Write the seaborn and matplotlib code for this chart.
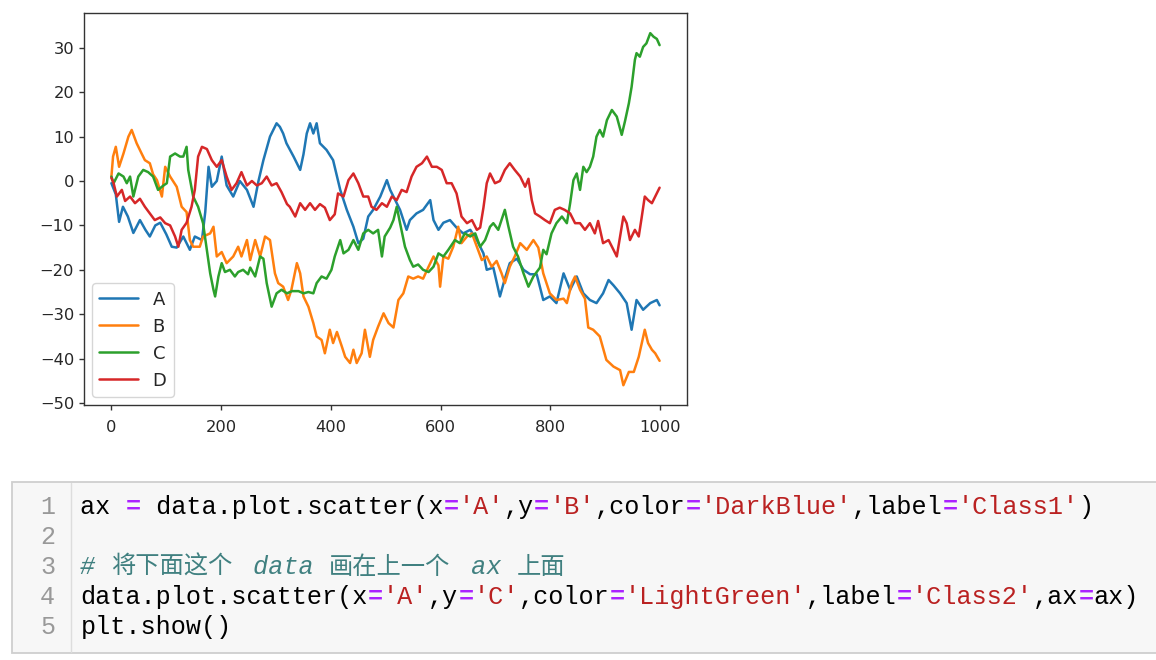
import matplotlib
matplotlib.use("Agg")
import matplotlib.pyplot as plt
import seaborn as sns
from matplotlib.patches import Rectangle
from matplotlib.lines import Line2D

# ---------------- data ----------------
A_idx = [0, 8, 14, 21, 30, 40, 52, 62, 70, 80, 89, 100, 110, 119, 131, 143, 152, 165, 171, 177,
         183, 192, 201, 210, 222, 234, 247, 259, 268, 277, 289, 301, 307, 313, 319, 332, 344, 350,
         356, 362, 368, 374, 380, 392, 404, 417, 429, 441, 450, 459, 468, 477, 490, 502, 508, 514,
         526, 538, 544, 556, 568, 581, 587, 596, 605, 617, 629, 641, 654, 666, 678, 684, 696, 708,
         717, 726, 739, 751, 763, 775, 787, 799, 811, 824, 836, 848, 860, 872, 884, 896, 906, 915,
         927, 939, 948, 957, 969, 982, 994, 999]
A_val = [-0.5, -3, -9.2, -5.8, -8, -11.7, -8.8, -11, -12.5, -10, -9.4, -12, -14.8, -15, -12.5, -15.5,
         -12.5, -13.3, -7, 3.2, -1.3, 0, 5.5, -1, -3.5, 0, -2, -5.8, 0, 4.7, 10, 13, 12.2, 10.7, 8.5,
         5.5, 2.5, 6, 10.7, 13, 10.7, 13, 8.5, 7, 4.7, -2, -6.5, -10.3, -14, -13, -8, -6.5, -3.5, 0.2,
         -2, -3.5, -6.5, -11, -8.8, -7.3, -6.5, -4.3, -8.8, -11, -9.4, -8.8, -10.5, -11.8, -11, -13.3,
         -16.3, -20, -19.5, -26, -22, -18.5, -17.5, -20, -21, -21, -26.8, -26, -27.5, -20.8, -24.5,
         -21.5, -25.3, -26.8, -27.5, -25.3, -22.3, -23.5, -25.3, -27.5, -33.5, -26.8, -29, -27.5,
         -26.8, -28]

B_idx = [0, 3, 8, 14, 22, 31, 37, 46, 55, 61, 70, 76, 83, 92, 98, 107, 119, 128, 137, 143, 149, 161,
         167, 180, 186, 192, 201, 210, 222, 231, 237, 247, 253, 262, 271, 280, 289, 298, 304, 313,
         322, 328, 338, 344, 350, 359, 368, 374, 383, 389, 398, 404, 411, 420, 426, 435, 441, 447,
         456, 462, 471, 477, 486, 496, 505, 514, 523, 532, 541, 550, 559, 568, 578, 587, 596, 599,
         605, 614, 623, 632, 638, 648, 657, 666, 675, 684, 693, 702, 711, 717, 726, 735, 745, 757,
         769, 778, 787, 799, 811, 824, 830, 839, 845, 854, 863, 869, 878, 890, 902, 915, 927, 933,
         943, 952, 961, 972, 978, 985, 991, 999]
B_val = [1, 5.5, 7.7, 3.2, 6.2, 10, 11.5, 8.5, 6.2, 4.7, 4, 1.5, 0.2, -3.5, 3.2, 1, -1.3, -5.8, -7,
         -13.3, -14.8, -14.8, -12.5, -11.8, -10.3, -17, -16, -18.5, -17, -14.8, -17, -13.3, -17.8,
         -13.3, -17, -12.5, -13.3, -20.8, -23, -23.8, -26.8, -24.5, -18.5, -20.8, -26, -28.3, -32,
         -35, -35.8, -38.8, -33.5, -36.5, -34, -37.3, -39.6, -41, -38, -41, -38.8, -33.5, -39.6,
         -35.8, -32.8, -29.8, -32, -33, -26.8, -25.3, -21.5, -22, -21.5, -22, -19.3, -17, -19, -23.8,
         -17, -17.5, -14.8, -10.3, -14, -12.5, -11.8, -14.8, -17.8, -17, -19.3, -18, -20.8, -23,
         -19.3, -17, -14, -15.5, -13.3, -15, -20.8, -25.3, -26.8, -26.5, -27.5, -23, -21.5, -24.5,
         -26.5, -33, -33.5, -35, -40.3, -41.8, -42.6, -46, -43, -43, -39.6, -33.5, -36.5, -38,
         -38.8, -40.5]

C_idx = [0, 4, 13, 22, 28, 34, 40, 49, 58, 67, 76, 85, 95, 101, 107, 116, 125, 131, 137, 140, 149,
         158, 167, 174, 180, 186, 189, 195, 201, 207, 216, 225, 231, 240, 249, 253, 262, 271, 277,
         283, 292, 301, 310, 320, 329, 341, 350, 359, 368, 374, 383, 392, 401, 407, 417, 423, 432,
         441, 450, 459, 468, 477, 486, 493, 498, 508, 514, 520, 526, 535, 544, 550, 559, 568, 578,
         587, 596, 605, 614, 626, 635, 644, 654, 663, 672, 681, 690, 696, 705, 717, 723, 732, 741,
         751, 760, 769, 781, 787, 793, 802, 811, 821, 830, 836, 842, 848, 854, 860, 866, 872, 878,
         884, 890, 896, 903, 912, 921, 930, 936, 943, 948, 954, 957, 963, 969, 975, 982, 988, 994,
         999]
C_val = [1, -0.5, 1.7, 1, -0.5, 1, -3.5, 1, 2.5, 2, 1, -2, -1, -0.5, 5.5, 6.2, 5.5, 5.5, 7.7, 2.5,
         -3.5, -5.8, -9.5, -15.5, -20.8, -24.5, -26, -21.5, -18.5, -20.5, -20, -21.5, -20.5, -20,
         -21, -19.5, -21.5, -17, -17.5, -23, -28.3, -25.3, -24.5, -25.3, -24.8, -24.8, -25.3, -25,
         -25.3, -23, -21.5, -22, -20, -17, -13.3, -16.3, -15.5, -13.3, -15.5, -11.8, -11, -11.8,
         -11, -17, -12.5, -10.5, -8.8, -5.8, -9.5, -14.8, -17.8, -19.3, -18.8, -20, -20.5, -19.3,
         -16.3, -17, -15.5, -13.3, -14, -11.8, -12.5, -11.8, -14.8, -13.3, -10.3, -9.5, -11, -6.5,
         -10, -14.8, -17, -20.8, -23.8, -21.5, -19.5, -15.5, -16.5, -11.8, -9.5, -8, -9.5, -5, 0.2,
         1.7, -2, 3.2, 2, 3.2, 5.5, 10, 11.5, 10, 13.7, 16, 14.5, 10.4, 13.5, 17.5, 21.2, 27.3,
         28.8, 28, 30.2, 31, 33.3, 32.5, 32, 30.6]

D_idx = [0, 4, 10, 19, 25, 34, 43, 52, 61, 70, 79, 89, 98, 107, 116, 122, 128, 137, 146, 152, 158,
         165, 174, 183, 192, 201, 210, 219, 228, 237, 247, 256, 265, 274, 283, 292, 301, 310, 320,
         325, 335, 344, 353, 362, 371, 380, 389, 398, 407, 413, 423, 432, 441, 450, 459, 468, 474,
         483, 493, 502, 511, 520, 529, 538, 547, 556, 566, 575, 584, 593, 602, 611, 620, 629, 638,
         648, 657, 666, 672, 678, 684, 690, 699, 708, 717, 726, 735, 745, 754, 760, 766, 772, 781,
         790, 799, 808, 817, 826, 836, 845, 854, 863, 872, 881, 887, 896, 906, 915, 921, 927, 933,
         939, 945, 954, 961, 966, 972, 978, 985, 991, 999]
D_val = [0.7, -0.5, -3.5, -2, -4.5, -3.5, -5, -4, -5.8, -7.3, -8.8, -8.2, -9.5, -10, -12.5, -14.8,
         -11, -9.4, -5.8, -2, 5.5, 7.7, 7.2, 4.7, 3.2, 4.7, 1, -2, -0.5, 2, -1, 0, -1, -0.5, 1, -1,
         -0.5, -2.5, -5.2, -5.8, -8, -5, -6.5, -5, -6.5, -5.2, -6, -8.8, -7.5, -2.8, -3.5, 0.2, 1.7,
         -0.5, -3.5, -3.5, -5.8, -6.5, -5, -5.8, -3.5, -4.3, -2, -2.5, 1, 3.2, 4, 5.5, 3.2, 3.2, 2.5,
         -0.5, -0.5, -2.8, -8, -9.5, -8.8, -11, -10.5, -6, -0.5, 1.7, -0.5, 0, 2.5, 4, 2.5, 1, -1.3,
         0.5, -4.3, -7.3, -8, -8.8, -9.5, -6.5, -6, -6.5, -7.3, -9.5, -9.5, -11, -9.5, -11.8, -9,
         -14, -13.3, -15.5, -17, -12.5, -8, -9.5, -13.3, -11, -12.5, -8.5, -3.5, -4.3, -5, -3.5,
         -1.5]

series_names = ["A", "B", "C", "D"]
series_colors = ["#1f77b4", "#ff7f0e", "#2ca02c", "#d62728"]
x_ticks = [0, 200, 400, 600, 800, 1000]
y_ticks = [-50, -40, -30, -20, -10, 0, 10, 20, 30]

code_lines = [
    [("ax ", "k"), ("=", "op"), (" data.plot.scatter(x", "k"), ("=", "op"), ("'A'", "s"),
     (",y", "k"), ("=", "op"), ("'B'", "s"), (",color", "k"), ("=", "op"), ("'DarkBlue'", "s"),
     (",label", "k"), ("=", "op"), ("'Class1'", "s"), (")", "k")],
    [],
    [("# ", "c"), ("将下面这个", "cj"), (" data ", "c"), ("画在上一个", "cj"), (" ax ", "c"),
     ("上面", "cj")],
    [("data.plot.scatter(x", "k"), ("=", "op"), ("'A'", "s"), (",y", "k"), ("=", "op"),
     ("'C'", "s"), (",color", "k"), ("=", "op"), ("'LightGreen'", "s"), (",label", "k"),
     ("=", "op"), ("'Class2'", "s"), (",ax", "k"), ("=", "op"), ("ax)", "k")],
    [("plt.show()", "k")],
]

# ---------------- figure ----------------
sns.set_theme(style="ticks")
plt.rcParams["font.family"] = ["DejaVu Sans", "Noto Sans CJK SC"]
W, H = 1156, 660
fig = plt.figure(figsize=(W / 100, H / 100), dpi=100)
fig.patch.set_facecolor("white")


def fx(px):
    return px / W


def fy(py):
    return 1 - py / H


ax = fig.add_axes([fx(84), fy(405), fx(687) - fx(84), (405 - 13) / H])
ax.set_facecolor("white")

for name, xs, ys, col in zip(series_names, [A_idx, B_idx, C_idx, D_idx],
                             [A_val, B_val, C_val, D_val], series_colors):
    sns.lineplot(x=xs, y=ys, ax=ax, color=col, linewidth=1.8, label=name,
                 estimator=None, sort=False)

ax.set_xlim(-49.95, 1048.95)
ax.set_ylim(-50.45, 37.84)
ax.set_xticks(x_ticks)
ax.set_yticks(y_ticks)
ax.set_xlabel("")
ax.set_ylabel("")
for s in ax.spines.values():
    s.set_visible(True)
    s.set_color("#333333")
    s.set_linewidth(1.0)
ax.tick_params(axis="both", which="major", length=3.6, width=1.0, color="#333333",
               labelsize=11.7, labelcolor="#262626", direction="out")
ax.tick_params(axis="x", pad=7)
ax.tick_params(axis="y", pad=3.5)

leg = ax.legend(loc="lower left", fontsize=13, handlelength=2.15, frameon=True,
                fancybox=True, framealpha=0.8, edgecolor="#cccccc", borderaxespad=0.45)
for t in leg.get_texts():
    t.set_color("#262626")

# ---------------- code cell ----------------
fig.patches.append(Rectangle((fx(11.5), fy(652.5)), fx(1160) - fx(11.5), (652.5 - 481.5) / H,
                             transform=fig.transFigure, facecolor="#f7f7f7",
                             edgecolor="#cfcfcf", linewidth=1.3, zorder=0))
fig.lines.append(Line2D([fx(71), fx(71)], [fy(482.5), fy(651.5)], transform=fig.transFigure,
                        color="#dddddd", linewidth=1.0, zorder=1))

mono = "Liberation Mono"
cjk = "Noto Sans CJK SC"
fs = 18.1  # monospace size: one character advances ~15.1 px
cw = 15.12  # px per monospace char
cjw = 25.5  # px per CJK char
x0 = 80.5
colors = {"k": "#000000", "op": "#aa22ff", "s": "#ba2121", "c": "#408080", "cj": "#408080"}

for li, tokens in enumerate(code_lines):
    base = 514 + 30 * li
    fig.text(fx(55), fy(base), str(li + 1), ha="right", va="baseline", fontsize=18,
             family=mono, color="#999999")
    x = x0
    for txt, kind in tokens:
        if kind == "cj":
            fig.text(fx(x), fy(base), txt, family=[cjk, mono], fontsize=17.5,
                     va="baseline", ha="left", color=colors[kind])
            x += cjw * len(txt)
        else:
            kw = dict(va="baseline", ha="left", fontsize=fs, color=colors[kind])
            if kind == "op":
                kw["fontweight"] = "bold"
            if kind == "c":
                kw["fontstyle"] = "italic"
            fig.text(fx(x), fy(base), txt, family=[mono, cjk], **kw)
            x += cw * len(txt)

fig.savefig("out.png", dpi=100, facecolor="white")
